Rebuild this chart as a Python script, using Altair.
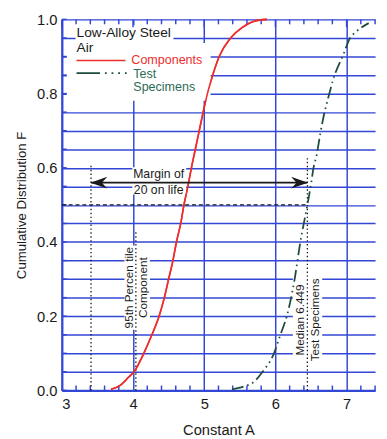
import altair as alt
import pandas as pd

# ---- data ----
comp_x = [3.69, 3.83, 3.94, 4.013, 4.151, 4.265, 4.366, 4.44, 4.50, 4.56, 4.61, 4.67, 4.715, 4.77, 4.82,
          4.875, 4.93, 4.985, 5.045, 5.12, 5.21, 5.37, 5.53, 5.70, 5.88]
comp_y = [0.003, 0.015, 0.036, 0.05, 0.10, 0.15, 0.20, 0.25, 0.30, 0.35, 0.40, 0.45, 0.50, 0.55, 0.60,
          0.65, 0.70, 0.75, 0.80, 0.85, 0.90, 0.95, 0.978, 0.995, 1.0]

test_x = [5.39, 5.55, 5.71, 5.82, 5.98, 6.07, 6.16, 6.27, 6.35, 6.449, 6.50, 6.535, 6.58, 6.63, 6.67, 6.76, 6.81, 6.96, 7.04, 7.13, 7.31]
test_y = [0.003, 0.01, 0.025, 0.05, 0.10, 0.15, 0.20, 0.30, 0.40, 0.50, 0.556, 0.60, 0.635, 0.692, 0.732, 0.802, 0.837, 0.908, 0.947, 0.966, 0.99]

x_major = [3, 4, 5, 6, 7]
x_minor = [3.2, 3.4, 3.6, 3.8, 4.2, 4.4, 4.6, 4.8, 5.2, 5.4, 5.6, 5.8, 6.2, 6.4, 6.6, 6.8, 7.2, 7.4]
y_grid = [0.0, 0.05, 0.1, 0.15, 0.2, 0.25, 0.3, 0.35, 0.4, 0.45, 0.5, 0.55, 0.6, 0.65, 0.7,
          0.75, 0.8, 0.85, 0.9, 0.95, 1.0]

vline_x = [3.41, 4.04, 6.449]
vline_top = [0.61, 0.43, 0.626]
median_value = 6.449
arrow_y = 0.56
arrow_left = 3.41

FONT = "Liberation Sans"
BLUE = "#3347d6"
RED = "#ee2d2d"
GREEN = "#1e4d3d"
GREEN_TXT = "#2d6b55"
INK = "#1a1a1a"

W, H = 320, 379
xscale = alt.Scale(domain=[3, 7.4], nice=False, zero=False)
yscale = alt.Scale(domain=[0, 1], nice=False, zero=True)

one = pd.DataFrame({"a": [0]})

xaxis = alt.Axis(values=x_major, grid=True, gridColor=BLUE, gridWidth=1.5, gridOpacity=1,
                 domainColor=BLUE, domainWidth=2.2, ticks=False, labelPadding=7,
                 labelFont=FONT, labelFontSize=15, labelColor=INK, format="d",
                 titleFont=FONT, titleFontSize=15, titleFontWeight="normal", titleColor=INK,
                 titlePadding=11)
yaxis = alt.Axis(values=y_grid, grid=True, gridColor=BLUE, gridWidth=1.5, gridOpacity=1,
                 domainColor=BLUE, domainWidth=2.2, ticks=False, labelPadding=5,
                 labelFont=FONT, labelFontSize=15, labelColor=INK,
                 labelExpr="abs(datum.value*5 - round(datum.value*5)) < 0.001 ? format(datum.value, '.1f') : ''",
                 titleFont=FONT, titleFontSize=13.5, titleFontWeight="normal", titleColor=INK,
                 titlePadding=8)


def X(f):
    return alt.X(f, scale=xscale, axis=xaxis, title="Constant A")


def Y(f):
    return alt.Y(f, scale=yscale, axis=yaxis, title="Cumulative Distribution F")


comp_df = pd.DataFrame({"x": comp_x, "y": comp_y, "o": list(range(len(comp_x)))})
test_df = pd.DataFrame({"x": test_x, "y": test_y, "o": list(range(len(test_x)))})

comp = alt.Chart(comp_df).mark_line(color=RED, strokeWidth=1.6, interpolate="monotone").encode(
    x=X("x:Q"), y=Y("y:Q"), order="o:Q")

test = alt.Chart(test_df).mark_line(color=GREEN, strokeWidth=1.8, interpolate="monotone",
                                   strokeDash=[12, 4, 1.6, 4, 1.6, 4]).encode(
    x=X("x:Q"), y=Y("y:Q"), order="o:Q")


# white boxes behind text (cover grid)
def box(x1, x2, y1, y2):
    return alt.Chart(one).mark_rect(color="white").encode(
        x=alt.value(x1), x2=alt.value(x2), y=alt.value(y1), y2=alt.value(y2))


boxes = [box(5, 152, 24, 83), box(14, 114, 6, 24), box(72, 127, 151, 179),
         box(64, 90, 231, 317), box(236, 266, 263, 350)]

# inward ticks
xmin_df = pd.DataFrame({"x": x_minor})
ymin_df = pd.DataFrame({"y": y_grid})
tick_bottom = alt.Chart(xmin_df).mark_rule(color=BLUE, strokeWidth=1.5).encode(
    x=X("x:Q"), y=alt.value(H), y2=alt.value(H - 5))
tick_top = alt.Chart(xmin_df).mark_rule(color=BLUE, strokeWidth=1.5).encode(
    x=X("x:Q"), y=alt.value(0), y2=alt.value(5))
tick_top_major = alt.Chart(pd.DataFrame({"x": x_major})).mark_rule(color=BLUE, strokeWidth=1.5).encode(
    x=X("x:Q"), y=alt.value(0), y2=alt.value(8))
tick_left = alt.Chart(ymin_df).mark_rule(color=BLUE, strokeWidth=1.5).encode(
    y=Y("y:Q"), x=alt.value(0), x2=alt.value(5))

# dotted verticals
vl_df = pd.DataFrame({"x": vline_x, "y0": [0, 0, 0], "y1": vline_top})
vlines = alt.Chart(vl_df).mark_rule(color=INK, strokeWidth=1.3, strokeDash=[1.5, 2.5]).encode(
    x=X("x:Q"), y=Y("y0:Q"), y2="y1:Q")

# dashed median line
med_df = pd.DataFrame({"x0": [3.0], "x1": [median_value], "y": [0.5]})
medline = alt.Chart(med_df).mark_rule(color=INK, strokeWidth=1.2, strokeDash=[4, 3]).encode(
    x=X("x0:Q"), x2="x1:Q", y=Y("y:Q"))

# arrow
arr_df = pd.DataFrame({"x0": [arrow_left], "x1": [median_value], "y": [arrow_y]})
arrow = alt.Chart(arr_df).mark_rule(color=INK, strokeWidth=1.6).encode(
    x=X("x0:Q"), x2="x1:Q", y=Y("y:Q"))
head_l = alt.Chart(arr_df).mark_point(shape="M-1,0L1,-0.7L0.35,0L1,0.7Z", size=300, filled=True,
                                      color=INK, opacity=1, xOffset=8).encode(
    x=X("x0:Q"), y=Y("y:Q"))
head_r = alt.Chart(arr_df).mark_point(shape="M1,0L-1,-0.7L-0.35,0L-1,0.7Z", size=300, filled=True,
                                      color=INK, opacity=1, xOffset=-8).encode(
    x=X("x1:Q"), y=Y("y:Q"))

# annotation texts (data coords)
ann_df = pd.DataFrame({
    "x": [4.36, 4.36],
    "y": [0.584, 0.541],
    "t": ["Margin of", "20 on life"],
})
ann = alt.Chart(ann_df).mark_text(font=FONT, fontSize=12.5, color=INK, align="center", baseline="middle").encode(
    x=X("x:Q"), y=Y("y:Q"), text="t:N")

rot_df = pd.DataFrame({
    "x": [3.95, 4.14, 6.34, 6.555],
    "y": [0.277, 0.277, 0.19, 0.19],
    "t": ["95th Percen tile", "Component", "Median 6.449", "Test Specimens"],
})
rot = alt.Chart(rot_df).mark_text(font=FONT, fontSize=12, color=INK, align="center", baseline="middle",
                                  angle=270).encode(
    x=X("x:Q"), y=Y("y:Q"), text="t:N")


# legend
def ltext(txt, x, y, color=INK, size=14):
    return alt.Chart(one).mark_text(text=txt, font=FONT, fontSize=size, color=color,
                                    align="left", baseline="middle").encode(
        x=alt.value(x), y=alt.value(y))


leg_red = alt.Chart(one).mark_rule(color=RED, strokeWidth=1.6).encode(
    x=alt.value(15), x2=alt.value(65), y=alt.value(42))
leg_green = alt.Chart(one).mark_rule(color=GREEN, strokeWidth=1.8,
                                     strokeDash=[24, 5, 1.8, 5, 1.8, 5, 1.8, 5, 1.8, 60]).encode(
    x=alt.value(15), x2=alt.value(68), y=alt.value(55))

legend = [ltext("Low-Alloy Steel", 15, 13.5), ltext("Air", 15, 29.5),
          leg_red, leg_green,
          ltext("Components", 71, 42, RED, 12.8), ltext("Test", 73, 55.5, GREEN_TXT, 12.8),
          ltext("Specimens", 73, 69, GREEN_TXT, 12.8)]

chart = alt.layer(
    comp, *boxes, tick_bottom, tick_top, tick_top_major, tick_left,
    medline, vlines, test, comp,
    arrow, head_l, head_r, ann, rot, *legend
).properties(
    width=W, height=H,
    autosize=alt.AutoSizeParams(type="none"),
    padding={"left": 55, "top": 7, "right": 4, "bottom": 45},
    background="white",
).configure_view(stroke=None)

chart.save("out.html", embed_options={"renderer": "svg", "actions": False})
